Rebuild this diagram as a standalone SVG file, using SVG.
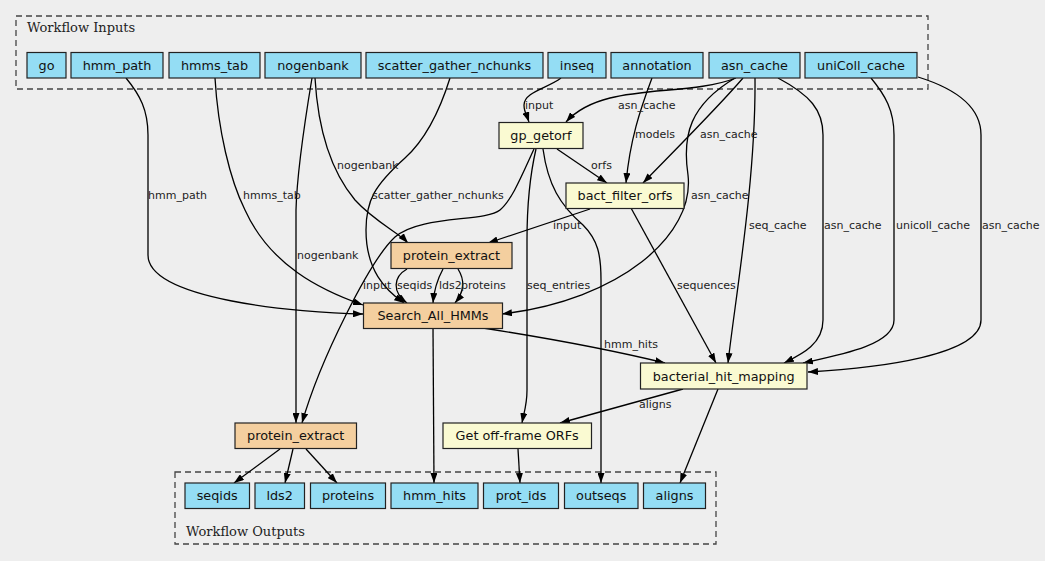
<svg xmlns="http://www.w3.org/2000/svg" width="1045" height="561" viewBox="0 0 1045 561">
<style>
.bg{fill:#eeeeee}
.cl{fill:none;stroke:#444;stroke-width:1.3;stroke-dasharray:6,4}
.ct{font-family:"DejaVu Serif",serif;font-size:13px;fill:#222}
.io rect{fill:#94ddf4;stroke:#222;stroke-width:1.2}
.st rect{fill:#fafad2;stroke:#222;stroke-width:1.2}
.sw rect{fill:#f4cf9f;stroke:#222;stroke-width:1.2}
.n text{font-family:"DejaVu Sans",sans-serif;font-size:12.8px;fill:#111;text-anchor:middle}
#edges path{fill:none;stroke:#000;stroke-width:1.3;marker-end:url(#ah)}
#labels text{font-family:"DejaVu Sans",sans-serif;font-size:11px;fill:#222}
</style>
<defs>
<marker id="ah" viewBox="0 0 10 7" refX="10" refY="3.5" markerWidth="10" markerHeight="7" markerUnits="userSpaceOnUse" orient="auto">
<path d="M0,0 L10,3.5 L0,7 z" fill="#000"/>
</marker>
</defs>
<rect class="bg" x="0" y="0" width="1045" height="561"/>
<g id="cluster-inputs">
<rect class="cl" x="16" y="16" width="912" height="73"/>
<text class="ct" x="27" y="31.5">Workflow Inputs</text>
</g>
<g id="cluster-outputs">
<rect class="cl" x="175" y="472" width="541" height="72"/>
<text class="ct" x="186" y="536">Workflow Outputs</text>
</g>
<g id="edges">
<path d="M561,78 C548,88 524,92 524,105 C524,112 527,116 529,122"/>
<path d="M736,78 C700,92 650,88 610,98 C590,103 575,112 566,122"/>
<path d="M652,78 C640,110 630,140 626,183"/>
<path d="M743,78 C720,105 680,145 643,183"/>
<path d="M557,149 L607,183"/>
<path d="M735,78 C690,105 682,135 688,175 C695,235 620,300 502,314"/>
<path d="M755,78 C756,180 735,300 728,363"/>
<path d="M778,78 C810,95 823,110 823,135 L823,320 C823,345 800,355 784,363"/>
<path d="M871,78 C885,95 894,110 894,135 L894,320 C894,345 840,355 803,363"/>
<path d="M918,77 C960,90 981,110 981,135 L981,320 C981,355 880,368 808,372"/>
<path d="M536,149 C530,175 527,200 527,240 L527,390 C527,405 524,412 522,423"/>
<path d="M543,149 C548,185 560,205 583,225 C598,240 601,255 601,280 L601,483"/>
<path d="M534,149 C522,175 512,200 500,210 C485,222 420,215 395,237 C370,260 320,360 302,423"/>
<path d="M315,78 C318,130 330,170 355,200 C375,222 398,232 408,243"/>
<path d="M312,78 C305,120 297,170 296,210 L296,423"/>
<path d="M126,78 C140,95 148,110 148,135 L148,255 C148,300 300,313 363,314"/>
<path d="M215,78 C218,130 230,180 245,210 C270,265 320,290 363,305"/>
<path d="M450,78 C440,110 425,140 405,158 C375,185 366,200 366,230 C366,270 385,290 404,303"/>
<path d="M407,269 C393,277 392,292 407,303"/>
<path d="M443,269 C437,280 434,290 433,303"/>
<path d="M458,269 C465,280 464,292 455,303"/>
<path d="M483,328 C560,340 620,352 665,363"/>
<path d="M433,328 L434,483"/>
<path d="M631,208 L716,363"/>
<path d="M590,209 L488,243"/>
<path d="M683,389 L560,423"/>
<path d="M718,389 L680,483"/>
<path d="M280,449 L234,483"/>
<path d="M293,449 L285,483"/>
<path d="M306,449 L337,483"/>
<path d="M518,449 L520,483"/>
</g>
<g id="labels">
<text x="525" y="108.5">input</text>
<text x="618" y="108.5">asn_cache</text>
<text x="635" y="137.5">models</text>
<text x="700" y="137.5">asn_cache</text>
<text x="591" y="168.5">orfs</text>
<text x="337" y="168.5">nogenbank</text>
<text x="148" y="198.5">hmm_path</text>
<text x="243" y="198.5">hmms_tab</text>
<text x="372" y="198.5">scatter_gather_nchunks</text>
<text x="691" y="198.5">asn_cache</text>
<text x="553" y="228.5">input</text>
<text x="749" y="228.5">seq_cache</text>
<text x="824" y="228.5">asn_cache</text>
<text x="896" y="228.5">unicoll_cache</text>
<text x="982" y="228.5">asn_cache</text>
<text x="297" y="258.5">nogenbank</text>
<text x="363" y="288.5">input</text>
<text x="397" y="288.5">seqids</text>
<text x="439" y="288.5">lds2</text>
<text x="461" y="288.5">proteins</text>
<text x="527" y="288.5">seq_entries</text>
<text x="677" y="288.5">sequences</text>
<text x="604" y="348">hmm_hits</text>
<text x="639" y="408">aligns</text>
</g>
<g id="in-go" class="n io"><rect x="27" y="52.5" width="39" height="25.5"/><text x="46.5" y="69.5">go</text></g>
<g id="in-hmm_path" class="n io"><rect x="71" y="52.5" width="92" height="25.5"/><text x="117" y="69.5">hmm_path</text></g>
<g id="in-hmms_tab" class="n io"><rect x="169" y="52.5" width="91" height="25.5"/><text x="214.5" y="69.5">hmms_tab</text></g>
<g id="in-nogenbank" class="n io"><rect x="265" y="52.5" width="96" height="25.5"/><text x="313" y="69.5">nogenbank</text></g>
<g id="in-scatter_gather_nchunks" class="n io"><rect x="366" y="52.5" width="177" height="25.5"/><text x="454.5" y="69.5">scatter_gather_nchunks</text></g>
<g id="in-inseq" class="n io"><rect x="548" y="52.5" width="58" height="25.5"/><text x="577" y="69.5">inseq</text></g>
<g id="in-annotation" class="n io"><rect x="611" y="52.5" width="92" height="25.5"/><text x="657" y="69.5">annotation</text></g>
<g id="in-asn_cache" class="n io"><rect x="709" y="52.5" width="91" height="25.5"/><text x="754.5" y="69.5">asn_cache</text></g>
<g id="in-uniColl_cache" class="n io"><rect x="805" y="52.5" width="112" height="25.5"/><text x="861" y="69.5">uniColl_cache</text></g>
<g id="gp_getorf" class="n st"><rect x="499" y="122.5" width="84" height="26"/><text x="541" y="140">gp_getorf</text></g>
<g id="bact_filter_orfs" class="n st"><rect x="566" y="183" width="118" height="25.5"/><text x="625" y="200">bact_filter_orfs</text></g>
<g id="protein_extract_1" class="n sw"><rect x="391" y="242.5" width="121" height="26"/><text x="451.5" y="260">protein_extract</text></g>
<g id="Search_All_HMMs" class="n sw"><rect x="363.5" y="303" width="139" height="25.5"/><text x="433" y="320">Search_All_HMMs</text></g>
<g id="bacterial_hit_mapping" class="n st"><rect x="640.5" y="363" width="166.5" height="26"/><text x="723.7" y="380.5">bacterial_hit_mapping</text></g>
<g id="protein_extract_2" class="n sw"><rect x="235" y="423" width="121.5" height="25.5"/><text x="295.7" y="440">protein_extract</text></g>
<g id="get_off_frame_orfs" class="n st"><rect x="443" y="423" width="148.5" height="25.5"/><text x="517.2" y="440">Get off-frame ORFs</text></g>
<g id="out-seqids" class="n io"><rect x="185" y="483" width="64.5" height="25.5"/><text x="217.2" y="500">seqids</text></g>
<g id="out-lds2" class="n io"><rect x="255" y="483" width="49.5" height="25.5"/><text x="279.7" y="500">lds2</text></g>
<g id="out-proteins" class="n io"><rect x="310.5" y="483" width="75" height="25.5"/><text x="348" y="500">proteins</text></g>
<g id="out-hmm_hits" class="n io"><rect x="391" y="483" width="87" height="25.5"/><text x="434.5" y="500">hmm_hits</text></g>
<g id="out-prot_ids" class="n io"><rect x="483.5" y="483" width="75" height="25.5"/><text x="521" y="500">prot_ids</text></g>
<g id="out-outseqs" class="n io"><rect x="564.5" y="483" width="73.5" height="25.5"/><text x="601.2" y="500">outseqs</text></g>
<g id="out-aligns" class="n io"><rect x="643.5" y="483" width="62" height="25.5"/><text x="674.5" y="500">aligns</text></g>
</svg>
